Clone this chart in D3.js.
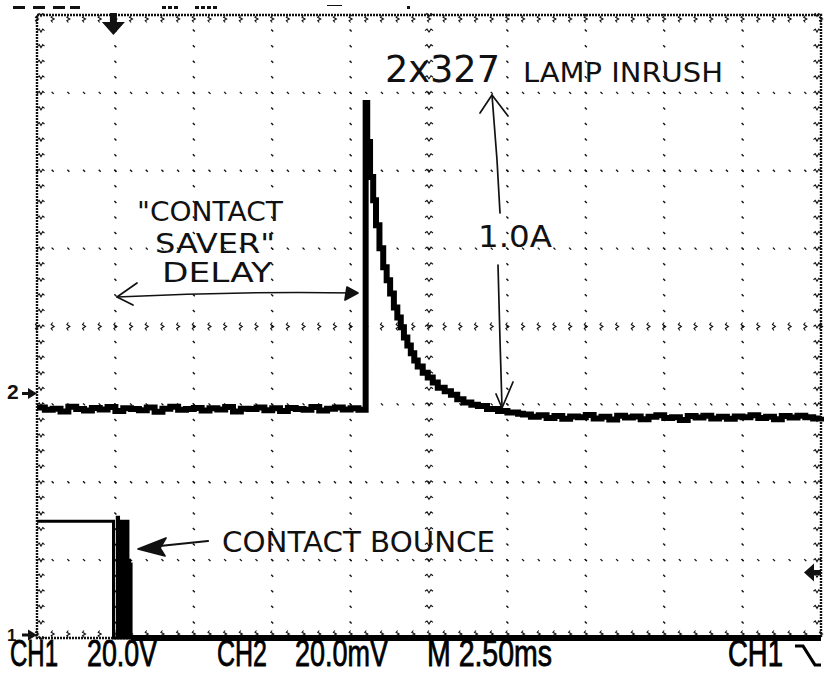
<!DOCTYPE html>
<html>
<head>
<meta charset="utf-8">
<script src="https://cdn.jsdelivr.net/npm/d3@7"></script>
<style>
  body { margin: 0; background: #fff; }
  svg { display: block; }
</style>
</head>
<body>
<svg id="scope"></svg>
<script>
// Scope settings
const timePerDiv = 2.5;      // ms/div  (M 2.50ms)
const ch1PerDiv = 20;        // V/div   (CH1 20.0V)
const ch2PerDiv = 20;        // mV/div  (CH2 20.0mV)
const ch1OffsetDiv = -4;     // CH1 ground marker at bottom of screen
const ch2OffsetDiv = -0.86;  // CH2 ground marker
const triggerLevel = 16.8;   // V on CH1, falling edge

// CH1: coil/contact voltage [ms, V]
const ch1Trace = [
  [-2.5, 30.0], [-0.06, 0], [0.06, 31], [0.10, 0], [0.12, 30], [0.15, 0],
  [0.17, 30], [0.20, 0], [0.22, 30], [0.25, 0], [0.27, 30], [0.30, 0],
  [0.32, 30], [0.35, 0], [0.37, 30], [0.40, 0], [0.42, 20], [0.45, 0],
  [0.47, 19], [0.50, 0], [22.5, 0]
];

// CH2: lamp current via shunt [ms, mV]
const ch2Trace = [
  [-2.5, -3.6], [-2.25, -4.2], [-2.0, -3.9], [-1.75, -4.6], [-1.5, -3.4],
  [-1.25, -4.0], [-1.0, -4.4], [-0.75, -3.7], [-0.5, -4.1], [-0.25, -3.5],
  [0.0, -4.5], [0.25, -3.8], [0.5, -4.0], [0.75, -4.3], [1.0, -3.6],
  [1.25, -4.7], [1.5, -3.9], [1.75, -3.4], [2.0, -4.2], [2.25, -4.0],
  [2.5, -3.7], [2.75, -4.4], [3.0, -3.8], [3.25, -4.1], [3.5, -3.5],
  [3.75, -4.6], [4.0, -3.9], [4.25, -4.0], [4.5, -3.6], [4.75, -4.3],
  [5.0, -3.8], [5.25, -4.5], [5.5, -3.7], [5.75, -4.0], [6.0, -4.2],
  [6.25, -3.5], [6.5, -4.4], [6.75, -3.9], [7.0, -3.6], [7.25, -4.1],
  [7.5, -3.8], [7.75, -4.2],
  [7.98, 74.6], [8.03, 64.6], [8.12, 55.6], [8.22, 49.6], [8.31, 43.2],
  [8.42, 37.3], [8.54, 32.4], [8.65, 29.1], [8.76, 25.7], [8.88, 22.1],
  [8.99, 19.5], [9.10, 17.0], [9.20, 14.4], [9.31, 12.3], [9.42, 10.3],
  [9.53, 8.5], [9.64, 6.9], [9.80, 5.3], [9.96, 4.1], [10.12, 2.8],
  [10.28, 1.5], [10.5, 0.6], [10.7, -0.3], [10.9, -1.5], [11.1, -2.3],
  [11.35, -2.9], [11.56, -3.2], [11.85, -4.0], [12.2, -4.5], [12.5, -4.9],
  [12.84, -5.2],
  [13.0, -5.4], [13.25, -6.0], [13.5, -5.6], [13.75, -6.3], [14.0, -5.8],
  [14.25, -6.5], [14.5, -5.9], [14.75, -6.1], [15.0, -5.5], [15.25, -6.4],
  [15.5, -6.0], [15.75, -6.7], [16.0, -5.7], [16.25, -6.2], [16.5, -5.9],
  [16.75, -6.6], [17.0, -6.0], [17.25, -5.6], [17.5, -6.3], [17.75, -6.1],
  [18.0, -6.8], [18.25, -5.8], [18.5, -6.2], [18.75, -5.7], [19.0, -6.4],
  [19.25, -6.0], [19.5, -6.5], [19.75, -5.9], [20.0, -6.1], [20.25, -5.6],
  [20.5, -6.3], [20.75, -6.0], [21.0, -6.6], [21.25, -5.8], [21.5, -6.2],
  [21.75, -5.7], [22.0, -6.1], [22.25, -6.4], [22.5, -6.0]
];

// Status line
const statusLabels = ['CH1', '20.0V', 'CH2', '20.0mV', 'M 2.50ms', 'CH1'];

const W = 825, H = 674;
const svg = d3.select('#scope').attr('width', W).attr('height', H);

// Screen: 10 x 8 divisions
const x = d3.scaleLinear().domain([-1 * timePerDiv, 9 * timePerDiv]).range([37, 821]);
const div = d3.scaleLinear().domain([-4, 4]).range([638, 15]);
const xDiv = d3.scaleLinear().domain([-5, 5]).range([37, 821]);
const y1 = d3.scaleLinear()
  .domain([(-4 - ch1OffsetDiv) * ch1PerDiv, (4 - ch1OffsetDiv) * ch1PerDiv])
  .range(div.range());
const y2 = d3.scaleLinear()
  .domain([(-4 - ch2OffsetDiv) * ch2PerDiv, (4 - ch2OffsetDiv) * ch2PerDiv])
  .range(div.range());

const ink = '#111';
const grid = svg.append('g');

// grid dots every 0.2 div along the division lines
const minorX = d3.range(-5, 5.001, 0.2);
const minorY = d3.range(-4, 4.001, 0.2);
const dot = 'M-1,-1L1,1';
const zig = (len, vertical) => vertical
  ? `M0,${-len/2}l-1.5,${len/4}l3,${len/4}l-3,${len/4}l1.5,${len/4}`
  : `M${-len/2},0l${len/4},-1.5l${len/4},3l${len/4},-3l${len/4},1.5`;

[-4, -3, -2, -1, 1, 2, 3, 4].forEach(dv => {
  grid.selectAll(null).data(minorY).enter().append('path')
    .attr('d', dot).attr('transform', d => `translate(${xDiv(dv)},${div(d)})`)
    .attr('stroke', ink).attr('stroke-width', 1.4);
});
[-3, -2, -1, 1, 2, 3].forEach(dv => {
  grid.selectAll(null).data(minorX).enter().append('path')
    .attr('d', dot).attr('transform', d => `translate(${xDiv(d)},${div(dv)})`)
    .attr('stroke', ink).attr('stroke-width', 1.4);
});

// centre axes with tick marks
grid.selectAll(null).data(minorY).enter().append('path')
  .attr('d', zig(8, false)).attr('transform', d => `translate(${xDiv(0)},${div(d)})`)
  .attr('fill', 'none').attr('stroke', ink).attr('stroke-width', 1.1);
grid.selectAll(null).data(minorX).enter().append('path')
  .attr('d', zig(8, true)).attr('transform', d => `translate(${xDiv(d)},${div(0)})`)
  .attr('fill', 'none').attr('stroke', ink).attr('stroke-width', 1.1);

// border with inward ticks
grid.append('rect')
  .attr('x', xDiv(-5)).attr('y', div(4))
  .attr('width', xDiv(5) - xDiv(-5)).attr('height', div(-4) - div(4))
  .attr('fill', 'none').attr('stroke', ink).attr('stroke-width', 2.4)
  .attr('stroke-dasharray', '2,1');
grid.selectAll(null).data(minorY).enter().append('path')
  .attr('d', zig(7, false)).attr('transform', d => `translate(${xDiv(-5) + 4},${div(d)})`)
  .attr('fill', 'none').attr('stroke', ink).attr('stroke-width', 1.1);
grid.selectAll(null).data(minorY).enter().append('path')
  .attr('d', zig(7, false)).attr('transform', d => `translate(${xDiv(5) - 4},${div(d)})`)
  .attr('fill', 'none').attr('stroke', ink).attr('stroke-width', 1.1);
grid.selectAll(null).data(minorX).enter().append('path')
  .attr('d', zig(7, true)).attr('transform', d => `translate(${xDiv(d)},${div(4) + 4})`)
  .attr('fill', 'none').attr('stroke', ink).attr('stroke-width', 1.1);
grid.selectAll(null).data(minorX).enter().append('path')
  .attr('d', zig(7, true)).attr('transform', d => `translate(${xDiv(d)},${div(-4) - 4})`)
  .attr('fill', 'none').attr('stroke', ink).attr('stroke-width', 1.1);

// traces
const line1 = d3.line().x(d => x(d[0])).y(d => y1(d[1])).curve(d3.curveStepAfter);
const line2 = d3.line().x(d => x(d[0])).y(d => y2(d[1])).curve(d3.curveStepAfter);

svg.append('path').datum(ch2Trace)
  .attr('d', line2).attr('fill', 'none').attr('stroke', '#000')
  .attr('stroke-width', 6).attr('stroke-linejoin', 'miter');
svg.append('path').datum(ch1Trace)
  .attr('d', line1).attr('fill', 'none').attr('stroke', '#000')
  .attr('stroke-width', 3).attr('stroke-linejoin', 'miter');
svg.append('line')
  .attr('x1', x(0.5)).attr('x2', x(22.5)).attr('y1', y1(0)).attr('y2', y1(0))
  .attr('stroke', '#000').attr('stroke-width', 6);

// channel ground markers and trigger markers
const groundMark = (label, yPos, size) => {
  svg.append('text').attr('x', 7).attr('y', yPos + 6)
    .attr('font-family', 'Liberation Sans').attr('font-size', size).attr('font-weight', 'bold')
    .attr('fill', ink).text(label);
  svg.append('path')
    .attr('d', `M${xDiv(-5) - 15},${yPos - 1.5}h6v-4l9,5.5l-9,5.5v-4h-6Z`)
    .attr('fill', ink);
};
groundMark('2', y2(0), 21);
groundMark('1', y1(0) - 3, 17);

const xr = xDiv(5), yt = y1(triggerLevel);
svg.append('path')
  .attr('d', `M${xr - 17},${yt}L${xr - 7},${yt - 9}L${xr - 7},${yt + 9}Z M${xr - 8},${yt - 2.5}h8v5h-8Z`)
  .attr('fill', ink);

const xt = x(0) - 2, yTop = div(4);
svg.append('path')
  .attr('d', `M${xt - 3.5},${yTop - 2}h7v9h8l-11.5,13l-11.5,-13h8Z`)
  .attr('fill', ink);

// cropped top status line remnants
const header = svg.append('g').attr('fill', ink);
[[13, 12], [33, 12], [53, 12], [70, 10]].forEach(([a, w]) =>
  header.append('rect').attr('x', a).attr('y', 6).attr('width', w).attr('height', 3));
[162, 168, 174, 195, 201, 207, 213].forEach(a =>
  header.append('rect').attr('x', a).attr('y', 6).attr('width', 4).attr('height', 3));
header.append('rect').attr('x', 327).attr('y', 5).attr('width', 15).attr('height', 1);
header.append('rect').attr('x', 407).attr('y', 6).attr('width', 3).attr('height', 3);

// handwritten annotations
const hand = svg.append('g').attr('fill', ink).attr('font-family', 'DejaVu Sans');
const note = (txt, x0, base, len, size) =>
  hand.append('text').attr('x', x0).attr('y', base).attr('font-size', size)
    .attr('textLength', len).attr('lengthAdjust', 'spacingAndGlyphs').text(txt);

note('2x327', 385, 82, 115, 38);
note('LAMP INRUSH', 523, 82, 200, 27);
note('1.0A', 478, 247, 74, 30);
note('"CONTACT', 137, 221, 146, 27);
note('SAVER"', 155, 253, 120, 27);
note('DELAY', 162, 282, 110, 26);
note('CONTACT BOUNCE', 222, 552, 273, 29);

const pen = svg.append('g').attr('fill', 'none').attr('stroke', ink)
  .attr('stroke-width', 1.7).attr('stroke-linecap', 'round').attr('stroke-linejoin', 'round');
pen.append('path').attr('d', 'M492,95 L497,160 L500,213');
pen.append('path').attr('d', 'M480,113 L492,95 L508,116');
pen.append('path').attr('d', 'M498,265 L500,340 L502,407');
pen.append('path').attr('d', 'M496,394 L502,408 L513,382');
pen.append('path').attr('d', 'M117,297 Q240,291 357,293');
pen.append('path').attr('d', 'M137,283 L117,297 L133,305');
pen.append('path').attr('d', 'M347,287 L358,293 L345,300 Z').attr('fill', ink);
pen.append('path').attr('d', 'M208,541 L150,547').attr('stroke-width', 2.2);
pen.append('path').attr('d', 'M138,549 L166,538 L160,548 L165,556 Z').attr('fill', ink);

// status line
const statusPos = [[10, 48], [87, 70], [217, 50], [295, 93], [427, 125], [728, 55]];
svg.append('g').selectAll('text').data(statusLabels).enter().append('text')
  .attr('x', (d, i) => statusPos[i][0]).attr('y', 666)
  .attr('textLength', (d, i) => statusPos[i][1]).attr('lengthAdjust', 'spacingAndGlyphs')
  .attr('font-family', 'Liberation Sans').attr('font-size', 36).attr('fill', '#000')
  .attr('stroke', '#000').attr('stroke-width', 0.8)
  .text(d => d);
svg.append('path')
  .attr('d', 'M795,646 H803 L815,665 H821')
  .attr('fill', 'none').attr('stroke', '#000').attr('stroke-width', 3.2);
</script>
</body>
</html>
